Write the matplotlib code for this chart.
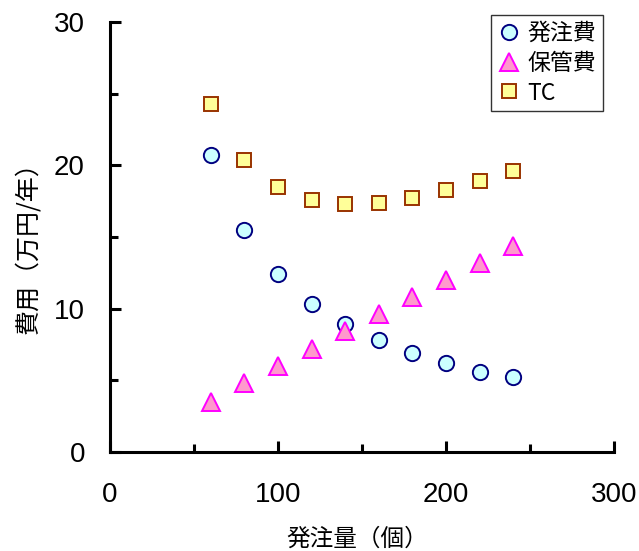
import matplotlib
matplotlib.use("Agg")
import matplotlib.pyplot as plt
from matplotlib.ticker import MultipleLocator

plt.rcParams['font.family'] = ['Liberation Sans', 'Noto Sans CJK JP', 'DejaVu Sans']

# data
order_qty = [60, 80, 100, 120, 140, 160, 180, 200, 220, 240]
ordering_cost = [20.7, 15.5, 12.4, 10.3, 8.9, 7.8, 6.9, 6.2, 5.6, 5.2]
holding_cost = [3.5, 4.8, 6.0, 7.2, 8.4, 9.6, 10.8, 12.0, 13.2, 14.4]
total_cost = [24.3, 20.4, 18.5, 17.6, 17.3, 17.4, 17.7, 18.3, 18.9, 19.6]

series_names = ['発注費', '保管費', 'TC']

fig = plt.figure(figsize=(6.39, 5.51), dpi=100)
ax = fig.add_axes([0.172, 0.18, 0.789, 0.78])

ax.plot(order_qty, ordering_cost, linestyle='none', marker='o', markersize=11,
        markerfacecolor='#CCFFFF', markeredgecolor='#000080', markeredgewidth=1.4,
        label=series_names[0])
ax.plot(order_qty, holding_cost, linestyle='none', marker='^', markersize=12.5,
        markerfacecolor='#FF99CC', markeredgecolor='#FF00FF', markeredgewidth=1.4,
        label=series_names[1])
ax.plot(order_qty, total_cost, linestyle='none', marker='s', markersize=10.5,
        markerfacecolor='#FFFF99', markeredgecolor='#993300', markeredgewidth=1.4,
        label=series_names[2])

ax.set_xlim(0, 300)
ax.set_ylim(0, 30)
ax.xaxis.set_major_locator(MultipleLocator(100))
ax.xaxis.set_minor_locator(MultipleLocator(50))
ax.yaxis.set_major_locator(MultipleLocator(10))
ax.yaxis.set_minor_locator(MultipleLocator(5))

ax.spines['top'].set_visible(False)
ax.spines['right'].set_visible(False)
for s in ('left', 'bottom'):
    ax.spines[s].set_linewidth(2.2)
ax.tick_params(which='both', direction='in', width=2.2, labelsize=20)
ax.tick_params(which='major', length=8)
ax.tick_params(which='minor', length=6)
ax.tick_params(axis='x', pad=22)
ax.tick_params(axis='y', pad=18)

ax.set_xlabel('発注量（個）', fontsize=17, family=['Noto Sans CJK JP'])
ax.set_ylabel('費用（万円/年）', fontsize=18, family=['Noto Sans CJK JP'])
ax.xaxis.set_label_coords(0.49, -0.176)
ax.yaxis.set_label_coords(-0.137, 0.49)

leg = fig.legend(loc='upper right', bbox_to_anchor=(0.944, 0.973), frameon=True,
                 fancybox=False, edgecolor='black', borderpad=0.3,
                 handletextpad=0.3, labelspacing=0.3, handlelength=1.0,
                 borderaxespad=0,
                 prop={'family': ['Noto Sans CJK JP'], 'size': 16.5})
leg.get_frame().set_linewidth(1)

plt.savefig('out.png', dpi=100)
plt.close()
